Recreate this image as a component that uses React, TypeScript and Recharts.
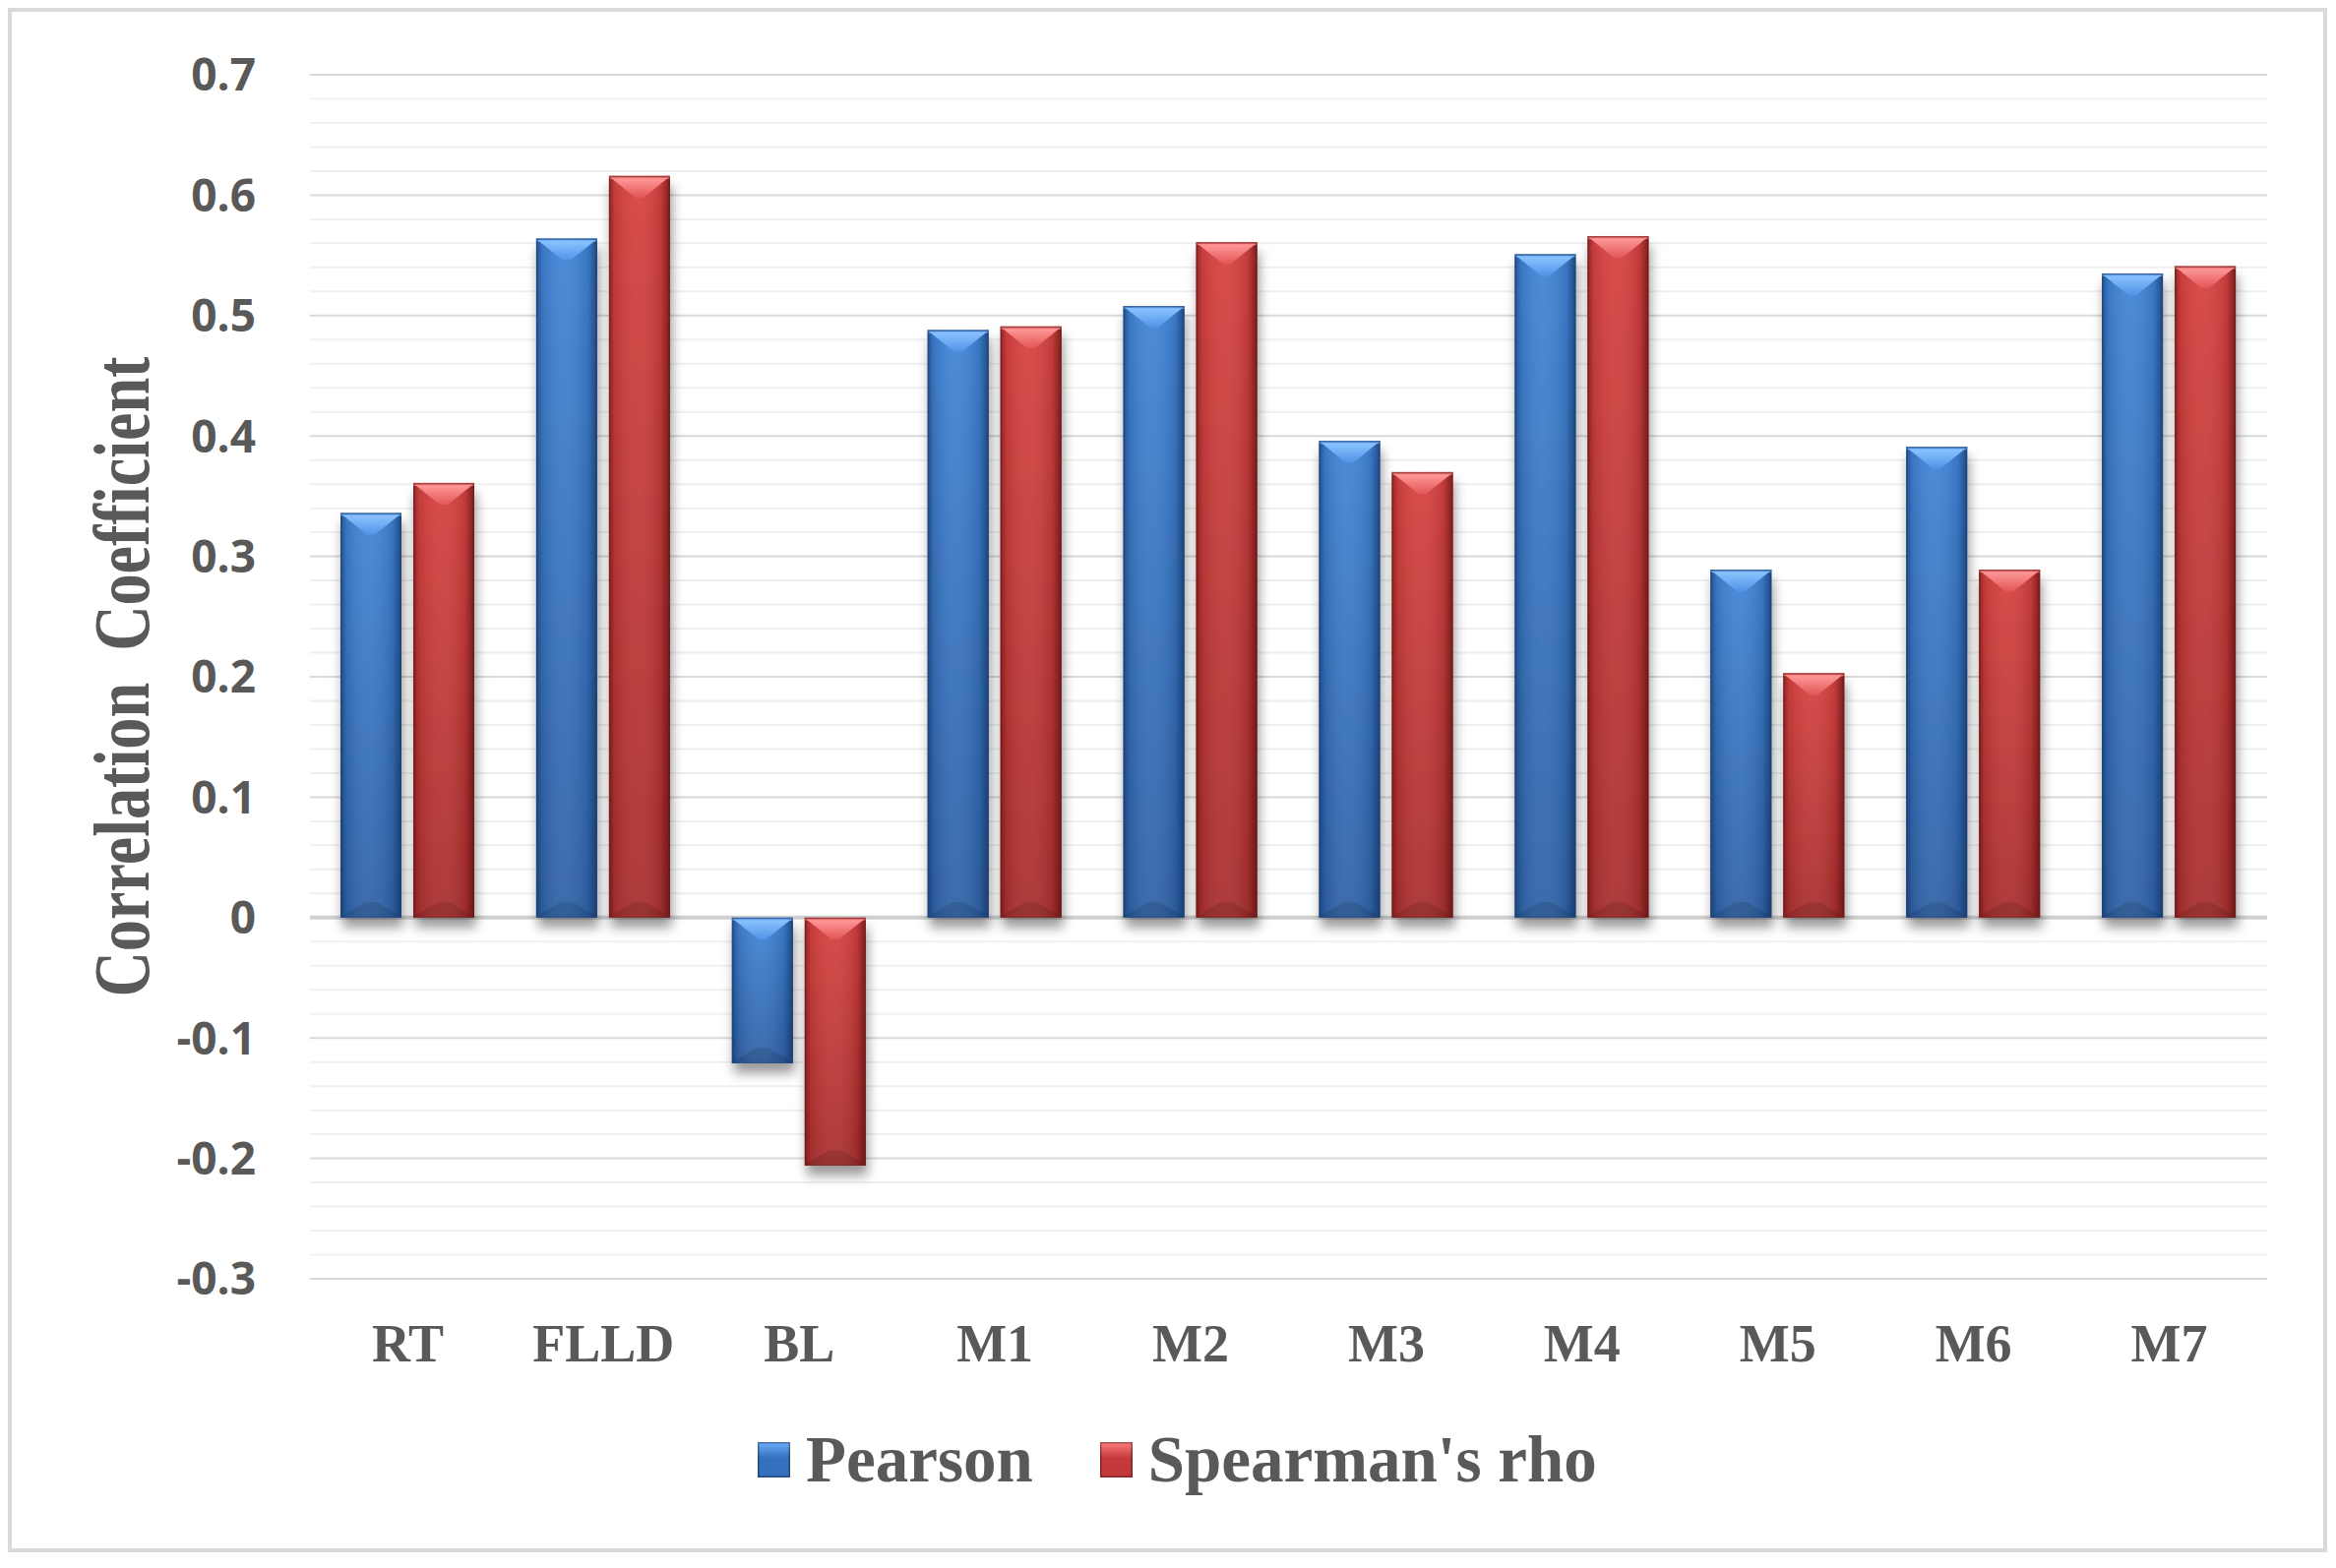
import { BarChart, Bar, XAxis, YAxis, CartesianGrid, Legend } from "recharts";

const categories = ["RT", "FLLD", "BL", "M1", "M2", "M3", "M4", "M5", "M6", "M7"];
const pearson = [0.336, 0.564, -0.121, 0.488, 0.508, 0.396, 0.551, 0.289, 0.391, 0.535];
const spearman = [0.361, 0.616, -0.206, 0.491, 0.561, 0.37, 0.566, 0.203, 0.289, 0.541];
const majorTicks = [-0.3, -0.2, -0.1, 0, 0.1, 0.2, 0.3, 0.4, 0.5, 0.6, 0.7];
const minorSteps = [0.02, 0.04, 0.06, 0.08];

const data = categories.map((name, i) => ({
  name,
  pearson: pearson[i],
  spearman: spearman[i],
}));

// minor gridlines every 0.02 between the labelled ticks
const minorTicks = majorTicks
  .slice(0, -1)
  .flatMap((t) => minorSteps.map((s) => Math.round((t + s) * 100) / 100));

const W = 2374;
const H = 1594;
const GRAY = "#595959";

function fmtTick(v: number) {
  if (v === 0) return "0";
  return v.toFixed(1);
}

// Excel-style bevelled column
// eslint-disable-next-line @typescript-eslint/no-explicit-any
function BevelBar(props: any) {
  const { x, width, dataKey } = props;
  let { y, height } = props;
  if (height == null || width == null) return null;
  if (height < 0) {
    y = y + height;
    height = -height;
  }
  const k = dataKey === "pearson" ? "b" : "r";
  const depth = Math.min(width * 0.36, height * 0.5);
  const ins = 2;
  return (
    <g>
      <rect x={x} y={y} width={width} height={height} fill={`url(#${k}Body)`} filter="url(#barShadow)" />
      <rect x={x} y={y} width={width} height={height} fill={`url(#${k}Sides)`} />
      <polygon
        points={`${x + ins},${y + ins} ${x + width - ins},${y + ins} ${x + width * 0.56},${y + depth} ${x + width * 0.44},${y + depth}`}
        fill={`url(#${k}Top)`}
      />
      <polygon
        points={`${x + ins},${y + height - ins} ${x + width - ins},${y + height - ins} ${x + width * 0.6},${y + height - depth * 0.7} ${x + width * 0.4},${y + height - depth * 0.7}`}
        fill="#000"
        opacity={0.12}
      />
      <rect x={x} y={y} width={width} height={3} fill={k === "b" ? "#7ab8ff" : "#ff8a8a"} opacity={0.8} />
      <rect
        x={x + 0.75}
        y={y + 0.75}
        width={width - 1.5}
        height={height - 1.5}
        fill="none"
        stroke={k === "b" ? "#1f3f6e" : "#6e1a1a"}
        strokeOpacity={0.6}
        strokeWidth={1.5}
      />
    </g>
  );
}

function YTitle() {
  return (
    <text
      x={124}
      y={688}
      transform="rotate(-90 124 688)"
      textAnchor="middle"
      dominantBaseline="central"
      fontFamily="'Liberation Serif', 'Times New Roman', serif"
      fontWeight="bold"
      fontSize={80}
      fill={GRAY}
      textLength={651}
      lengthAdjust="spacingAndGlyphs"
    >
      {"Correlation\u00a0 Coefficient"}
    </text>
  );
}

function LegendIcon({ color, light }: { color: string; light: string }) {
  return (
    <span
      style={{
        display: "inline-block",
        width: 33,
        height: 36,
        background: `linear-gradient(180deg, ${light} 0%, ${color} 45%, ${color} 100%)`,
        boxShadow: "inset 0 0 0 1.5px rgba(0,0,0,0.35)",
      }}
    />
  );
}

function LegendContent() {
  return (
    <div
      style={{
        display: "flex",
        alignItems: "center",
        marginLeft: 770,
        fontFamily: "'Liberation Serif', 'Times New Roman', serif",
        fontWeight: "bold",
        fontSize: 67,
        color: GRAY,
        lineHeight: 1,
        whiteSpace: "nowrap",
      }}
    >
      <LegendIcon color="#3470bd" light="#6fb0ff" />
      <span style={{ marginLeft: 16 }}>Pearson</span>
      <span style={{ marginLeft: 68 }} />
      <LegendIcon color="#c43a3a" light="#ff7f7f" />
      <span style={{ marginLeft: 16 }}>Spearman's rho</span>
    </div>
  );
}

export default function App() {
  return (
    <div style={{ position: "absolute", left: 0, top: 0, width: W, height: H, background: "#fff" }}>
      <div
        style={{
          position: "absolute",
          left: 8,
          top: 8,
          width: 2357,
          height: 1570,
          border: "4px solid #d9d9d9",
          boxSizing: "border-box",
        }}
      />
      <BarChart
        width={W}
        height={H}
        data={data}
        margin={{ top: 76, right: 70, left: 0, bottom: 194 }}
        barSize={62}
        barGap={12}
        style={{ position: "absolute", left: 0, top: 0 }}
      >
        <defs>
          <filter id="barShadow" x="-40%" y="-10%" width="180%" height="130%">
            <feDropShadow dx="2" dy="10" stdDeviation="6" floodColor="#000" floodOpacity="0.4" />
          </filter>
          <linearGradient id="bBody" x1="0" y1="0" x2="0" y2="1">
            <stop offset="0%" stopColor="#4184d6" />
            <stop offset="100%" stopColor="#2f62a6" />
          </linearGradient>
          <linearGradient id="rBody" x1="0" y1="0" x2="0" y2="1">
            <stop offset="0%" stopColor="#d74442" />
            <stop offset="100%" stopColor="#aa3030" />
          </linearGradient>
          <linearGradient id="bSides" x1="0" y1="0" x2="1" y2="0">
            <stop offset="0%" stopColor="#0d2a55" stopOpacity={0.55} />
            <stop offset="10%" stopColor="#0d2a55" stopOpacity={0.15} />
            <stop offset="45%" stopColor="#ffffff" stopOpacity={0.06} />
            <stop offset="85%" stopColor="#0d2a55" stopOpacity={0.15} />
            <stop offset="100%" stopColor="#0d2a55" stopOpacity={0.65} />
          </linearGradient>
          <linearGradient id="rSides" x1="0" y1="0" x2="1" y2="0">
            <stop offset="0%" stopColor="#4a0a0a" stopOpacity={0.5} />
            <stop offset="10%" stopColor="#4a0a0a" stopOpacity={0.12} />
            <stop offset="45%" stopColor="#ffffff" stopOpacity={0.05} />
            <stop offset="85%" stopColor="#4a0a0a" stopOpacity={0.15} />
            <stop offset="100%" stopColor="#4a0a0a" stopOpacity={0.65} />
          </linearGradient>
          <linearGradient id="bTop" x1="0" y1="0" x2="0" y2="1">
            <stop offset="0%" stopColor="#8cc4ff" />
            <stop offset="100%" stopColor="#4f93e6" />
          </linearGradient>
          <linearGradient id="rTop" x1="0" y1="0" x2="0" y2="1">
            <stop offset="0%" stopColor="#ff9a9a" />
            <stop offset="100%" stopColor="#e25555" />
          </linearGradient>
        </defs>
        <CartesianGrid horizontal vertical={false} horizontalValues={minorTicks} stroke="#efefef" strokeWidth={2} />
        <CartesianGrid horizontal vertical={false} horizontalValues={majorTicks} stroke="#d9d9d9" strokeWidth={2} />
        <CartesianGrid horizontal vertical={false} horizontalValues={[0]} stroke="#d0d0d0" strokeWidth={4} />
        <XAxis
          dataKey="name"
          height={100}
          axisLine={false}
          tickLine={false}
          tickSize={0}
          tickMargin={46}
          interval={0}
          tick={{
            fontFamily: "'Liberation Serif', 'Times New Roman', serif",
            fontWeight: "bold",
            fontSize: 54,
            fill: GRAY,
          }}
        />
        <YAxis
          type="number"
          domain={[-0.3, 0.7]}
          ticks={majorTicks}
          interval={0}
          tickFormatter={fmtTick}
          width={315}
          axisLine={false}
          tickLine={false}
          tickSize={0}
          tickMargin={55}
          tick={{ fontFamily: "'Open Sans', sans-serif", fontWeight: "bold", fontSize: 46, fill: GRAY }}
        />
        <Legend
          content={<LegendContent />}
          wrapperStyle={{ left: 0, top: 1450, width: W, height: 0, overflow: "visible" }}
        />
        <Bar dataKey="pearson" name="Pearson" fill="#3470bd" shape={<BevelBar />} isAnimationActive={false} />
        <Bar dataKey="spearman" name="Spearman's rho" fill="#c43a3a" shape={<BevelBar />} isAnimationActive={false} />
        <YTitle />
      </BarChart>
    </div>
  );
}
